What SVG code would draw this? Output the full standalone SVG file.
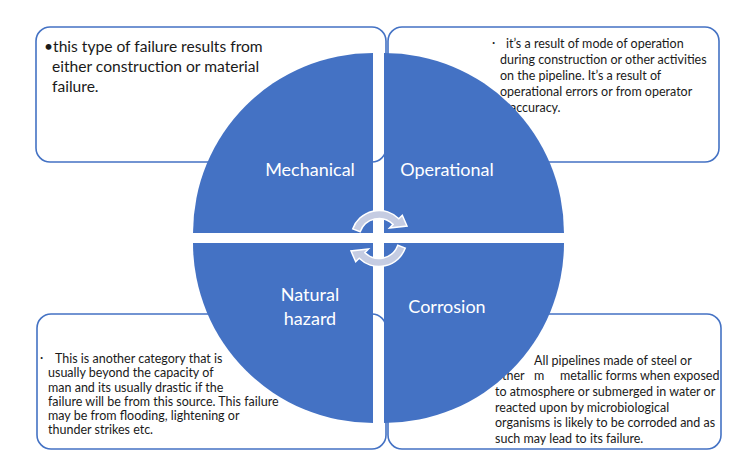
<svg xmlns="http://www.w3.org/2000/svg" width="747" height="464" viewBox="0 0 747 464">
<style>
.box{fill:#ffffff;stroke:#4472c4;stroke-width:1.6}
.q{fill:#4472c4}
.t{font-family:Lato,"Liberation Sans",sans-serif;fill:#1a1a1a}
.lbl{font-family:Lato,"Liberation Sans",sans-serif;fill:#ffffff;font-size:18px;text-anchor:middle}
.arr{fill:#c5cce2;stroke:#ffffff;stroke-width:1.5}
</style>
<rect width="747" height="464" fill="#ffffff"/>
<g id="box-mechanical">
<rect class="box" x="36" y="27" width="350" height="135" rx="14"/>
<text class="t" font-size="15.6"><tspan x="44" y="52">•this type of failure results from</tspan><tspan x="52" y="72">either construction or material</tspan><tspan x="52" y="91.5">failure.</tspan></text>
</g>
<g id="box-operational">
<rect class="box" x="388" y="27" width="331" height="135" rx="14"/>
<text class="t" font-size="12.5"><tspan x="492" y="47">·</tspan><tspan x="506" y="48">it’s a result of mode of operation</tspan><tspan x="500" y="64">during construction or other activities</tspan><tspan x="500" y="80">on the pipeline. It’s a result of</tspan><tspan x="500" y="96">operational errors or from operator</tspan><tspan x="500" y="112">inaccuracy.</tspan></text>
</g>
<g id="box-natural">
<rect class="box" x="37" y="314" width="349" height="135" rx="14"/>
<text class="t" font-size="12.5"><tspan x="40" y="362">·</tspan><tspan x="55" y="363">This is another category that is</tspan><tspan x="48" y="377">usually beyond the capacity of</tspan><tspan x="48" y="392">man and its usually drastic if the</tspan><tspan x="48" y="406">failure will be from this source. This failure</tspan><tspan x="48" y="420">may be from flooding, lightening or</tspan><tspan x="48" y="434">thunder strikes etc.</tspan></text>
</g>
<g id="box-corrosion">
<rect class="box" x="388" y="314" width="333" height="135" rx="14"/>
<text class="t" font-size="12.5"><tspan x="534" y="365">All pipelines made of steel or</tspan><tspan x="495" y="380">other</tspan><tspan x="534" y="380">m</tspan><tspan x="560" y="380">metallic forms when exposed</tspan><tspan x="495" y="396">to atmosphere or submerged in water or</tspan><tspan x="495" y="411.5">reacted upon by microbiological</tspan><tspan x="495" y="427">organisms is likely to be corroded and as</tspan><tspan x="495" y="442.5">such may lead to its failure.</tspan></text>
</g>
<g id="mechanical">
<path class="q" d="M373,233 L193,233 A180,180 0 0 1 373,53 Z"/>
<text class="lbl" x="310" y="176">Mechanical</text>
</g>
<g id="operational">
<path class="q" d="M384,233 L384,53 A180,180 0 0 1 564,233 Z"/>
<text class="lbl" x="447" y="176">Operational</text>
</g>
<g id="corrosion">
<path class="q" d="M384,243 L564,243 A180,180 0 0 1 384,423 Z"/>
<text class="lbl" x="447" y="313">Corrosion</text>
</g>
<g id="natural-hazard">
<path class="q" d="M373,243 L373,423 A180,180 0 0 1 193,243 Z"/>
<text class="lbl"><tspan x="310" y="301">Natural</tspan><tspan x="310" y="325">hazard</tspan></text>
</g>
<g id="connectors">
<path class="arr" d="M352.7,228.9 A28,28 0 0 1 398.8,218.7 L402.3,215.2 L407,226 L389.6,227.9 L393.1,224.4 A20,20 0 0 0 360.2,231.7 Z"/>
<path class="arr" transform="rotate(180 379 238.5)" d="M352.7,228.9 A28,28 0 0 1 398.8,218.7 L402.3,215.2 L407,226 L389.6,227.9 L393.1,224.4 A20,20 0 0 0 360.2,231.7 Z"/>
</g>
</svg>
